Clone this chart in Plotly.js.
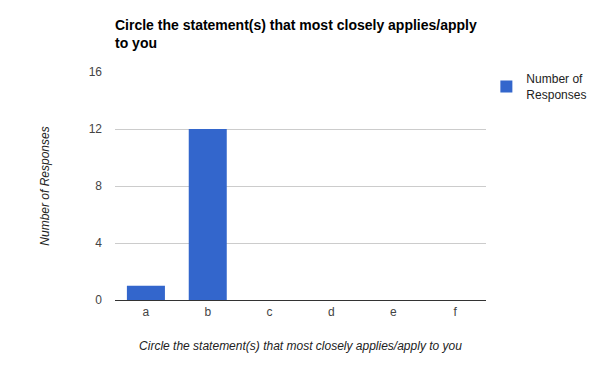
<!DOCTYPE html>
<html>
<head>
<meta charset="utf-8">
<script src="https://cdn.plot.ly/plotly-3.0.1.min.js"></script>
<style>html,body{margin:0;padding:0;background:#fff;}#chart{width:601px;height:372px;}</style>
</head>
<body>
<div id="chart"></div>
<script>
const categories = ["a", "b", "c", "d", "e", "f"];
const responses = [1, 12, 0, 0, 0, 0];
const seriesName = "Number of<br>Responses";
const yTicks = [0, 4, 8, 12, 16];

const trace = {
  type: "bar",
  x: categories,
  y: responses,
  name: seriesName,
  marker: {color: "#3366cc"},
  hoverinfo: "x+y"
};

const layout = {
  width: 601,
  height: 372,
  margin: {l: 115, r: 115, t: 72, b: 72, pad: 0, autoexpand: false},
  paper_bgcolor: "#ffffff",
  plot_bgcolor: "#ffffff",
  font: {family: "Liberation Sans, Arial, sans-serif", size: 12, color: "#444444"},
  title: {
    text: "<b>Circle the statement(s) that most closely applies/apply<br>to you</b>",
    font: {family: "Liberation Sans, Arial, sans-serif", size: 14, color: "#000000"},
    x: 115 / 601, xanchor: "left", xref: "container",
    y: 1 - 30 / 372, yanchor: "top", yref: "container"
  },
  bargap: 0.385,
  xaxis: {
    type: "category",
    showgrid: false,
    showline: false,
    zeroline: false,
    ticks: "",
    ticklabelstandoff: 3,
    tickfont: {size: 12, color: "#444444"},
    title: {
      text: "<i>Circle the statement(s) that most closely applies/apply to you</i>",
      font: {size: 12, color: "#222222"},
      standoff: 23
    },
    automargin: false
  },
  yaxis: {
    range: [0, 16],
    tickvals: yTicks,
    ticktext: yTicks.map(String),
    showgrid: true,
    gridcolor: "#cccccc",
    gridwidth: 1,
    zeroline: true,
    zerolinecolor: "#333333",
    zerolinewidth: 1,
    showline: false,
    ticks: "",
    ticklabelstandoff: 12,
    tickfont: {size: 12, color: "#444444"},
    title: {
      text: "<i>Number of Responses</i>",
      font: {size: 12, color: "#222222"},
      standoff: 36
    },
    automargin: false
  },
  showlegend: true,
  legend: {
    x: 1.001, xanchor: "left",
    y: 1.033, yanchor: "top",
    font: {size: 12, color: "#222222"},
    bgcolor: "rgba(0,0,0,0)",
    itemwidth: 30
  }
};

Plotly.newPlot("chart", [trace], layout, {displayModeBar: false, staticPlot: true});
</script>
</body>
</html>
